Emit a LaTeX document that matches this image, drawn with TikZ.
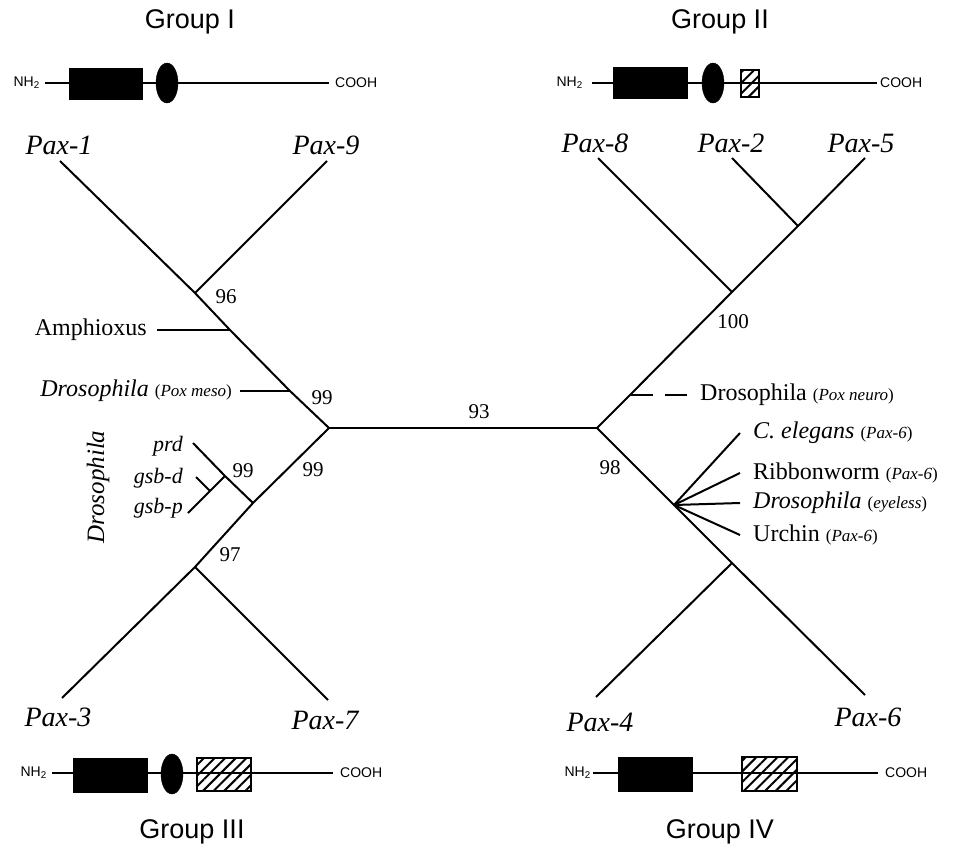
\documentclass[tikz,border=0pt]{standalone}
\usepackage{fontspec}
\setmainfont{Liberation Serif}
\newfontfamily\hel{Liberation Sans}
\usetikzlibrary{patterns.meta,shapes.geometric}
\begin{document}
\begin{tikzpicture}[x=1pt,y=-1pt,
  br/.style={line width=2pt},
  pax/.style={font=\fontsize{28}{30}\selectfont\itshape, inner sep=0},
  lbl/.style={font=\fontsize{24}{26}\selectfont, inner sep=0},
  sub/.style={font=\fontsize{22}{24}\selectfont\itshape, inner sep=0},
  num/.style={font=\fontsize{21}{23}\selectfont, inner sep=0},
  grp/.style={font=\hel\fontsize{27}{29}\selectfont, inner sep=0},
  term/.style={font=\hel\fontsize{14}{16}\selectfont, inner sep=0},
  bb/.style={line width=1.8pt},
  blkbox/.style={rectangle, fill=black, draw=black, inner sep=0},
  oval/.style={ellipse, fill=black, draw=black, inner sep=0, minimum width=22pt, minimum height=40pt},
  hatchbox/.style={rectangle, draw=black, line width=1.6pt, inner sep=0,
    fill=white, pattern={Lines[angle=45,distance=7.5pt,line width=2pt]}}
]
\useasboundingbox (0,0) rectangle (954,856);
\newcommand{\sm}[1]{{\fontsize{17}{19}\selectfont(\textit{#1})}}

% ---------- Group labels ----------
\node[grp] (g1) at (190,22) {Group I};
\node[grp] (g2) at (720,22) {Group II};
\node[grp] (g3) at (192,832) {Group III};
\node[grp] (g4) at (720,832) {Group IV};

% ---------- Domain diagrams ----------
% Group I
\node[term, anchor=east] (n1) at (40,83) {NH\textsubscript{2}};
\node[term, anchor=west] (c1) at (335,83) {COOH};
\draw[bb] ([xshift=5pt]n1.east) -- ([xshift=-6pt]c1.west);
\node[blkbox, minimum width=73pt, minimum height=31pt] (b1) at (105.5,83.5) {};
\node[oval] (o1) at (167,83) {};
% Group II
\node[term, anchor=east] (n2) at (583,83) {NH\textsubscript{2}};
\node[term, anchor=west] (c2) at (880,83) {COOH};
\draw[bb] ([xshift=9pt]n2.east) -- ([xshift=-3pt]c2.west);
\node[blkbox, minimum width=74pt, minimum height=31pt] (b2) at (650,82.5) {};
\node[oval] (o2) at (713,83) {};
\node[hatchbox, minimum width=18pt, minimum height=27pt] (h2) at (750,83.5) {};
% Group III
\node[term, anchor=east] (n3) at (47,773) {NH\textsubscript{2}};
\node[term, anchor=west] (c3) at (340,773) {COOH};
\draw[bb] ([xshift=5pt]n3.east) -- ([xshift=-7pt]c3.west);
\node[blkbox, minimum width=74pt, minimum height=34pt] (b3) at (110,775) {};
\node[oval] (o3) at (172,774) {};
\node[hatchbox, minimum width=54pt, minimum height=33pt] (h3) at (224,774.5) {};
% Group IV
\node[term, anchor=east] (n4) at (591,773) {NH\textsubscript{2}};
\node[term, anchor=west] (c4) at (885,773) {COOH};
\draw[bb] ([xshift=2pt]n4.east) -- ([xshift=-7pt]c4.west);
\node[blkbox, minimum width=74pt, minimum height=34pt] (b4) at (655,774) {};
\node[hatchbox, minimum width=55pt, minimum height=34pt] (h4) at (769.5,774) {};

% ---------- Tree coordinates ----------
\coordinate (L) at (329,428);
\coordinate (R) at (597,428);
\coordinate (j96) at (195,293);
\coordinate (p1) at (60,161);
\coordinate (p9) at (327,161);
\coordinate (jam) at (230,330);
\coordinate (am) at (157,330);
\coordinate (jdm) at (290,391);
\coordinate (dm) at (240,391);
\coordinate (jdr) at (253,503);
\coordinate (j97) at (195,567);
\coordinate (p3) at (62,698);
\coordinate (p7) at (328,700);
\coordinate (jprd) at (225,476);
\coordinate (eprd) at (193,443);
\coordinate (jgsb) at (210,491);
\coordinate (egsbd) at (196,477);
\coordinate (egsbp) at (188,513);

\coordinate (j100) at (732,292);
\coordinate (p8) at (598,158);
\coordinate (p5) at (865,158);
\coordinate (j25) at (798,226);
\coordinate (p2) at (732,158);
\coordinate (jneu) at (630,395);
\coordinate (neuA) at (653,395);
\coordinate (neuB) at (665,395);
\coordinate (neuC) at (687,395);
\coordinate (jmul) at (674,505);
\coordinate (j4) at (732,563);
\coordinate (p4) at (596,697);
\coordinate (p6) at (865,695);
\coordinate (ece) at (740,433);
\coordinate (erw) at (740,473);
\coordinate (edr) at (740,503);
\coordinate (eur) at (740,535);

% ---------- Tree branches ----------
\draw[br] (L) -- (R);
\draw[br] (L) -- (jdm) -- (jam) -- (j96) -- (p1);
\draw[br] (j96) -- (p9);
\draw[br] (am) -- (jam);
\draw[br] (dm) -- (jdm);
\draw[br] (L) -- (jdr) -- (j97) -- (p3);
\draw[br] (j97) -- (p7);
\draw[br] (jdr) -- (jprd) -- (eprd);
\draw[br] (jprd) -- (jgsb) -- (egsbp);
\draw[br] (jgsb) -- (egsbd);

\draw[br] (R) -- (jneu) -- (j100) -- (j25) -- (p5);
\draw[br] (j100) -- (p8);
\draw[br] (j25) -- (p2);
\draw[br] (jneu) -- (neuA);
\draw[br] (neuB) -- (neuC);
\draw[br] (R) -- (jmul) -- (j4) -- (p6);
\draw[br] (j4) -- (p4);
\draw[br] (jmul) -- (ece);
\draw[br] (jmul) -- (erw);
\draw[br] (jmul) -- (edr);
\draw[br] (jmul) -- (eur);

% ---------- Leaf labels ----------
\node[pax] (t1) at (59,145) {Pax-1};
\node[pax] (t9) at (326,145) {Pax-9};
\node[pax] (t8) at (595,143) {Pax-8};
\node[pax] (t2) at (731,143) {Pax-2};
\node[pax] (t5) at (861,143) {Pax-5};
\node[pax] (t3) at (58,717) {Pax-3};
\node[pax] (t7) at (325,720) {Pax-7};
\node[pax] (t4) at (600,722) {Pax-4};
\node[pax] (t6) at (868,717) {Pax-6};

\node[lbl, anchor=east] (lam) at (147,330) {Amphioxus};
\node[lbl, anchor=east] (ldm) at (232,391) {\textit{Drosophila} \sm{Pox meso}};
\node[lbl, anchor=west] (lneu) at (700,395) {Drosophila \sm{Pox neuro}};
\node[lbl, anchor=west] (lce) at (753,433) {\textit{C.\ elegans} \sm{Pax-6}};
\node[lbl, anchor=west] (lrw) at (753,473) {Ribbonworm \sm{Pax-6}};
\node[lbl, anchor=west] (ldr) at (753,503) {\textit{Drosophila} \sm{eyeless}};
\node[lbl, anchor=west] (lur) at (753,535) {Urchin \sm{Pax-6}};

\node[sub, anchor=east] (lprd) at (183,446) {prd};
\node[sub, anchor=east] (lgsbd) at (183,478) {gsb-d};
\node[sub, anchor=east] (lgsbp) at (183,508) {gsb-p};
\node[lbl, font=\fontsize{25}{27}\selectfont\itshape, rotate=90] (ldros) at (98,487) {Drosophila};

% ---------- Support values ----------
\node[num] (v96) at (226,297) {96};
\node[num] (v99a) at (322,398) {99};
\node[num] (v93) at (479,412) {93};
\node[num] (v99b) at (313,470) {99};
\node[num] (v99c) at (243,471) {99};
\node[num] (v97) at (230,555) {97};
\node[num] (v100) at (733,322) {100};
\node[num] (v98) at (610,468) {98};
\end{tikzpicture}
\end{document}
